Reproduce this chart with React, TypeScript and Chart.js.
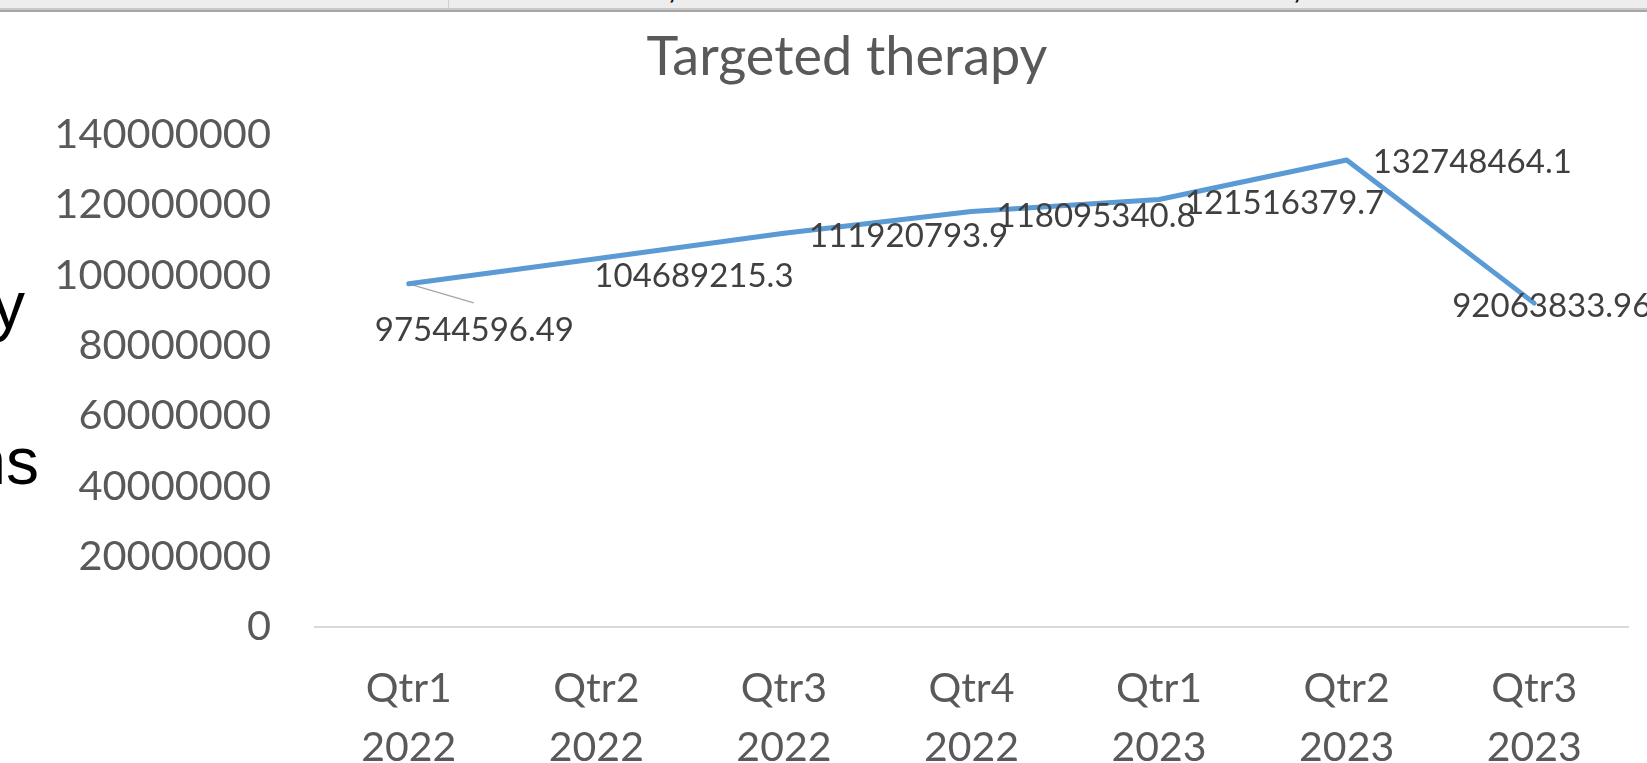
import React, { useEffect, useRef } from "react";
import { Chart, registerables } from "chart.js";

Chart.register(...registerables);

const chartTitle = "Targeted therapy";
const quarterLabels = ["Qtr1", "Qtr2", "Qtr3", "Qtr4", "Qtr1", "Qtr2", "Qtr3"];
const yearLabels = ["2022", "2022", "2022", "2022", "2023", "2023", "2023"];
const therapyValues = [
  97544596.49, 104689215.3, 111920793.9, 118095340.8, 121516379.7, 132748464.1, 92063833.96,
];
const yTickValues = [0, 20000000, 40000000, 60000000, 80000000, 100000000, 120000000, 140000000];

const FONT = "Lato, 'Open Sans', sans-serif";

// placement of each data label relative to its point (left edge, baseline)
const labelPlacement = [
  { dx: -34, dy: 57, leader: true },
  { dx: -2, dy: 28, leader: false },
  { dx: 25, dy: 14, leader: false },
  { dx: 25, dy: 15, leader: false },
  { dx: 26, dy: 14, leader: false },
  { dx: 26, dy: 13, leader: false },
  { dx: -82, dy: 14, leader: false },
];

const overlayPlugin = {
  id: "overlay",
  beforeDatasetsDraw(chart: any) {
    const ctx = chart.ctx;
    const meta = chart.getDatasetMeta(0);
    ctx.save();
    meta.data.forEach((pt: any, i: number) => {
      const p = labelPlacement[i];
      if (p && p.leader) {
        ctx.strokeStyle = "#a6a6a6";
        ctx.lineWidth = 1.5;
        ctx.beginPath();
        ctx.moveTo(pt.x, pt.y);
        ctx.lineTo(pt.x + 65, pt.y + 19);
        ctx.stroke();
      }
    });
    ctx.restore();
  },
  afterDatasetsDraw(chart: any) {
    const ctx = chart.ctx;
    const meta = chart.getDatasetMeta(0);
    ctx.save();
    ctx.font = `33px ${FONT}`;
    ctx.fillStyle = "#404040";
    ctx.textAlign = "left";
    ctx.textBaseline = "alphabetic";
    meta.data.forEach((pt: any, i: number) => {
      const p = labelPlacement[i];
      ctx.fillText(String(therapyValues[i]), pt.x + p.dx, pt.y + p.dy);
    });
    ctx.restore();
  },
  afterDraw(chart: any) {
    const ctx = chart.ctx;
    ctx.save();
    ctx.font = `54px ${FONT}`;
    ctx.fillStyle = "#595959";
    ctx.textAlign = "center";
    ctx.textBaseline = "alphabetic";
    ctx.fillText(chartTitle, 847, 75);
    ctx.restore();
  },
};

export default function App() {
  const canvasRef = useRef<HTMLCanvasElement | null>(null);

  useEffect(() => {
    const canvas = canvasRef.current;
    if (!canvas) return;
    const chart = new Chart(canvas, {
      type: "line",
      data: {
        labels: quarterLabels.map((q, i) => [q, yearLabels[i]]),
        datasets: [
          {
            label: chartTitle,
            data: therapyValues,
            borderColor: "#5B9BD5",
            backgroundColor: "#5B9BD5",
            borderWidth: 5,
            pointRadius: 0,
            pointHoverRadius: 0,
            tension: 0,
            fill: false,
            borderJoinStyle: "round",
            borderCapStyle: "round",
          },
        ],
      },
      options: {
        responsive: false,
        animation: false,
        devicePixelRatio: 1,
        layout: { padding: { left: 0, right: 19, top: 134.5, bottom: 0 } },
        plugins: {
          legend: { display: false },
          title: { display: false },
          tooltip: { enabled: false },
        },
        scales: {
          x: {
            type: "category",
            offset: true,
            grid: { display: false, drawTicks: false },
            border: { display: true, color: "#d9d9d9", width: 2 },
            ticks: {
              color: "#595959",
              font: { family: FONT, size: 41, lineHeight: 1.42 },
              padding: 33,
              maxRotation: 0,
              minRotation: 0,
              autoSkip: false,
            },
            afterFit: (scale: any) => {
              scale.height = 136;
            },
          },
          y: {
            min: 0,
            max: 140000000,
            grid: { display: false, drawTicks: false },
            border: { display: false },
            ticks: {
              color: "#595959",
              font: { family: FONT, size: 41.5 },
              padding: 44,
              callback: (v: any) => String(v),
            },
            afterBuildTicks: (scale: any) => {
              scale.ticks = yTickValues.map((v) => ({ value: v }));
            },
            afterFit: (scale: any) => {
              scale.width = 315;
            },
          },
        },
      },
      plugins: [overlayPlugin],
    } as any);
    return () => chart.destroy();
  }, []);

  const leftText: React.CSSProperties = {
    position: "absolute",
    fontFamily: "'Liberation Sans', Arial, sans-serif",
    fontSize: 66,
    lineHeight: 1,
    color: "#000",
    whiteSpace: "nowrap",
    textAlign: "right",
  };

  return (
    <div
      style={{
        position: "fixed",
        left: 0,
        top: 0,
        width: 1647,
        height: 763,
        background: "#ffffff",
        overflow: "hidden",
      }}
    >
      <canvas
        ref={canvasRef}
        width={1647}
        height={763}
        style={{ position: "absolute", left: 0, top: 0, width: 1647, height: 763 }}
      />
      <div
        style={{
          position: "absolute",
          left: 0,
          top: 0,
          width: 1647,
          height: 8,
          background: "#ededed",
          overflow: "hidden",
        }}
      >
        <div style={{ position: "absolute", left: 448, top: 0, width: 1, height: 8, background: "#d0d0d0" }} />
        <span style={{ position: "absolute", left: 667, top: -32, fontSize: 36, fontFamily: "'Liberation Sans', Arial, sans-serif", color: "#000", lineHeight: 1 }}>,</span>
        <span style={{ position: "absolute", left: 1292, top: -32, fontSize: 36, fontFamily: "'Liberation Sans', Arial, sans-serif", color: "#000", lineHeight: 1 }}>,</span>
      </div>
      <div style={{ position: "absolute", left: 0, top: 8, width: 1647, height: 2, background: "#c8c8c8" }} />
      <div style={{ position: "absolute", left: 0, top: 10, width: 1647, height: 2, background: "#a6a6a6" }} />
      <div style={{ ...leftText, right: 1647 - 25, top: 272 }}>y</div>
      <div style={{ ...leftText, right: 1647 - 39, top: 428 }}>ns</div>
    </div>
  );
}
